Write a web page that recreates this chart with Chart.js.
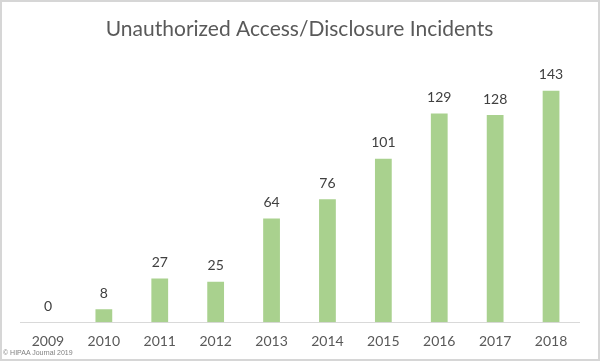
<!DOCTYPE html>
<html>
<head>
<meta charset="utf-8">
<script src="https://cdn.jsdelivr.net/npm/chart.js@4/dist/chart.umd.min.js"></script>
<style>
  html, body { margin: 0; padding: 0; background: #fff; }
  #wrap { position: relative; width: 600px; height: 361px; }
  #frame { position: absolute; left: 0; top: 0; width: 600px; height: 361px; box-sizing: border-box; border: 2px solid #d6d6d6; pointer-events: none; }
  #credit { position: absolute; left: 3px; top: 349px; font: 7px "Liberation Sans", Arial, sans-serif; color: #7f7f7f; }
</style>
</head>
<body>
<div id="wrap">
  <canvas id="incidents-barchart" width="600" height="361"></canvas>
  <div id="frame"></div>
  <div id="credit">© HIPAA Journal 2019</div>
</div>
<script>
//Data
let years = ["2009", "2010", "2011", "2012", "2013", "2014", "2015", "2016", "2017", "2018"];
let incidents = [0, 8, 27, 25, 64, 76, 101, 129, 128, 143];
let yMax = 160;

let barColor = "#a9d18e";
let textColor = "#595959";

//Value labels above the bars
const valueLabelPlugin = {
  id: "valueLabelPlugin",
  afterDatasetsDraw: (chart) => {
    const {ctx} = chart;
    ctx.save();
    ctx.font = "14px Lato";
    ctx.fillStyle = "#404040";
    ctx.textAlign = "center";
    ctx.textBaseline = "middle";
    chart.getDatasetMeta(0).data.forEach((bar, i) => {
      ctx.fillText(String(incidents[i]), bar.x, bar.y - 16);
    });
    ctx.restore();
  }
};

new Chart(document.getElementById("incidents-barchart"), {
  type: "bar",
  data: {
    labels: years,
    datasets: [
      {
        label: "Incidents",
        data: incidents,
        backgroundColor: barColor,
        borderWidth: 0,
        barPercentage: 0.3,
        categoryPercentage: 1,
      }
    ]
  },
  plugins: [valueLabelPlugin],
  options: {
    responsive: false,
    animation: false,
    layout: {
      padding: {left: 20, right: 21, top: 10, bottom: 8}
    },
    scales: {
      x: {
        grid: {display: false},
        border: {display: true, color: "#d9d9d9", width: 1},
        ticks: {
          color: textColor,
          font: {family: "Lato", size: 14},
          padding: 3,
        }
      },
      y: {
        display: false,
        min: 0,
        max: yMax,
      }
    },
    plugins: {
      legend: {display: false},
      tooltip: {enabled: false},
      title: {
        display: true,
        text: "Unauthorized Access/Disclosure Incidents",
        color: textColor,
        font: {family: "Lato", size: 21, weight: "normal"},
        padding: {top: 7, bottom: 21},
      }
    }
  }
});
</script>
</body>
</html>
